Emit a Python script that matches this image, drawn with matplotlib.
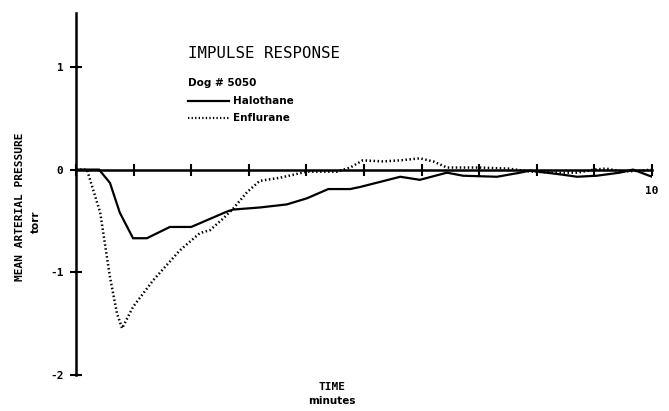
import numpy as np
import matplotlib
matplotlib.use('Agg')
import matplotlib.pyplot as plt

# halothane impulse response (solid)
t_halo = [0, 0.40, 0.59, 0.76, 0.99, 1.23, 1.63, 2.0, 2.62, 2.73, 3.19, 3.66, 4.01, 4.38,
          4.76, 4.93, 5.63, 5.97, 6.44, 6.72, 7.31, 7.71, 7.88, 8.45, 8.7, 9.04, 9.44, 9.67, 10]
y_halo = [0, 0, -0.13, -0.42, -0.67, -0.67, -0.56, -0.56, -0.41, -0.39, -0.37, -0.34, -0.28, -0.19,
          -0.19, -0.17, -0.07, -0.10, -0.03, -0.06, -0.07, -0.03, -0.01, -0.05, -0.07, -0.06, -0.03, 0.0, -0.07]

# enflurane impulse response (dotted)
t_enfl = [0, 0.19, 0.42, 0.59, 0.71, 0.80, 0.99, 1.34, 1.80, 2.15, 2.33, 2.55, 2.73, 2.97, 3.19,
          3.54, 4.01, 4.53, 4.76, 4.98, 5.33, 5.63, 5.97, 6.2, 6.44, 7.0, 7.5, 7.9, 8.3, 8.7,
          9.0, 9.2, 9.5, 9.8, 10]
y_enfl = [0, 0, -0.42, -1.05, -1.4, -1.55, -1.34, -1.08, -0.79, -0.62, -0.59, -0.48, -0.38, -0.22, -0.11,
          -0.08, -0.02, -0.02, 0.02, 0.09, 0.08, 0.09, 0.11, 0.08, 0.02, 0.02, 0.01, -0.02, -0.03, -0.03,
          0.0, 0.01, -0.02, -0.01, 0.0]

yticks = [-2, -1, 0, 1]
xticks = list(range(11))
xticklabels = [''] * 10 + ['10']

W, H = 669, 411
fig = plt.figure(figsize=(W / 100, H / 100), dpi=100)
ax = fig.add_axes([76 / W, 0.0888, 576 / W, 0.880])

ax.plot(t_halo, y_halo, color='black', lw=1.6, solid_joinstyle='miter')
ax.plot(t_enfl, y_enfl, color='black', lw=1.8, linestyle=(0, (0.6, 1.0)))

ax.set_xlim(0, 10)
ax.set_ylim(-2, 1.53)
for s in ['top', 'right']:
    ax.spines[s].set_visible(False)
ax.spines['bottom'].set_position(('data', 0))
ax.spines['bottom'].set_linewidth(1.8)
ax.spines['left'].set_linewidth(1.8)

ax.set_yticks(yticks)
ax.set_yticklabels([str(v) for v in yticks], fontweight='bold', fontsize=8, family='DejaVu Sans Mono')
ax.set_xticks(xticks)
ax.set_xticklabels(xticklabels, fontweight='bold', fontsize=8, family='DejaVu Sans Mono')
ax.tick_params(axis='both', direction='inout', length=8, width=1.5)
ax.tick_params(axis='y', pad=5)
ax.tick_params(axis='x', pad=8)

def fx(px):
    return px / W

def fy(py):
    return 1 - py / H

fig.text(fx(188), fy(53), 'IMPULSE RESPONSE', family='DejaVu Sans Mono', fontsize=11.3,
         va='center', ha='left')
fig.text(fx(188), fy(83), 'Dog # 5050', fontweight='bold', fontsize=7.5, va='center', ha='left')
fig.add_artist(plt.Line2D([fx(188), fx(229)], [fy(101), fy(101)], color='black', lw=1.6))
fig.text(fx(233), fy(101), 'Halothane', fontweight='bold', fontsize=7.5, va='center', ha='left')
fig.add_artist(plt.Line2D([fx(188), fx(229)], [fy(118), fy(118)], color='black', lw=1.6,
                          linestyle=(0, (0.6, 1.0))))
fig.text(fx(233), fy(118), 'Enflurane', fontweight='bold', fontsize=7.5, va='center', ha='left')

fig.text(fx(20), fy(207), 'MEAN ARTERIAL PRESSURE', rotation=90, family='DejaVu Sans Mono',
         fontweight='bold', fontsize=8, va='center', ha='center')
fig.text(fx(36), fy(222), 'torr', rotation=90, fontweight='bold', fontsize=7.5,
         va='center', ha='center')

fig.text(fx(332), fy(387), 'TIME', family='DejaVu Sans Mono', fontweight='bold', fontsize=8,
         va='center', ha='center')
fig.text(fx(332), fy(401), 'minutes', fontweight='bold', fontsize=7.5, va='center', ha='center')

fig.savefig('out.png', dpi=100)
